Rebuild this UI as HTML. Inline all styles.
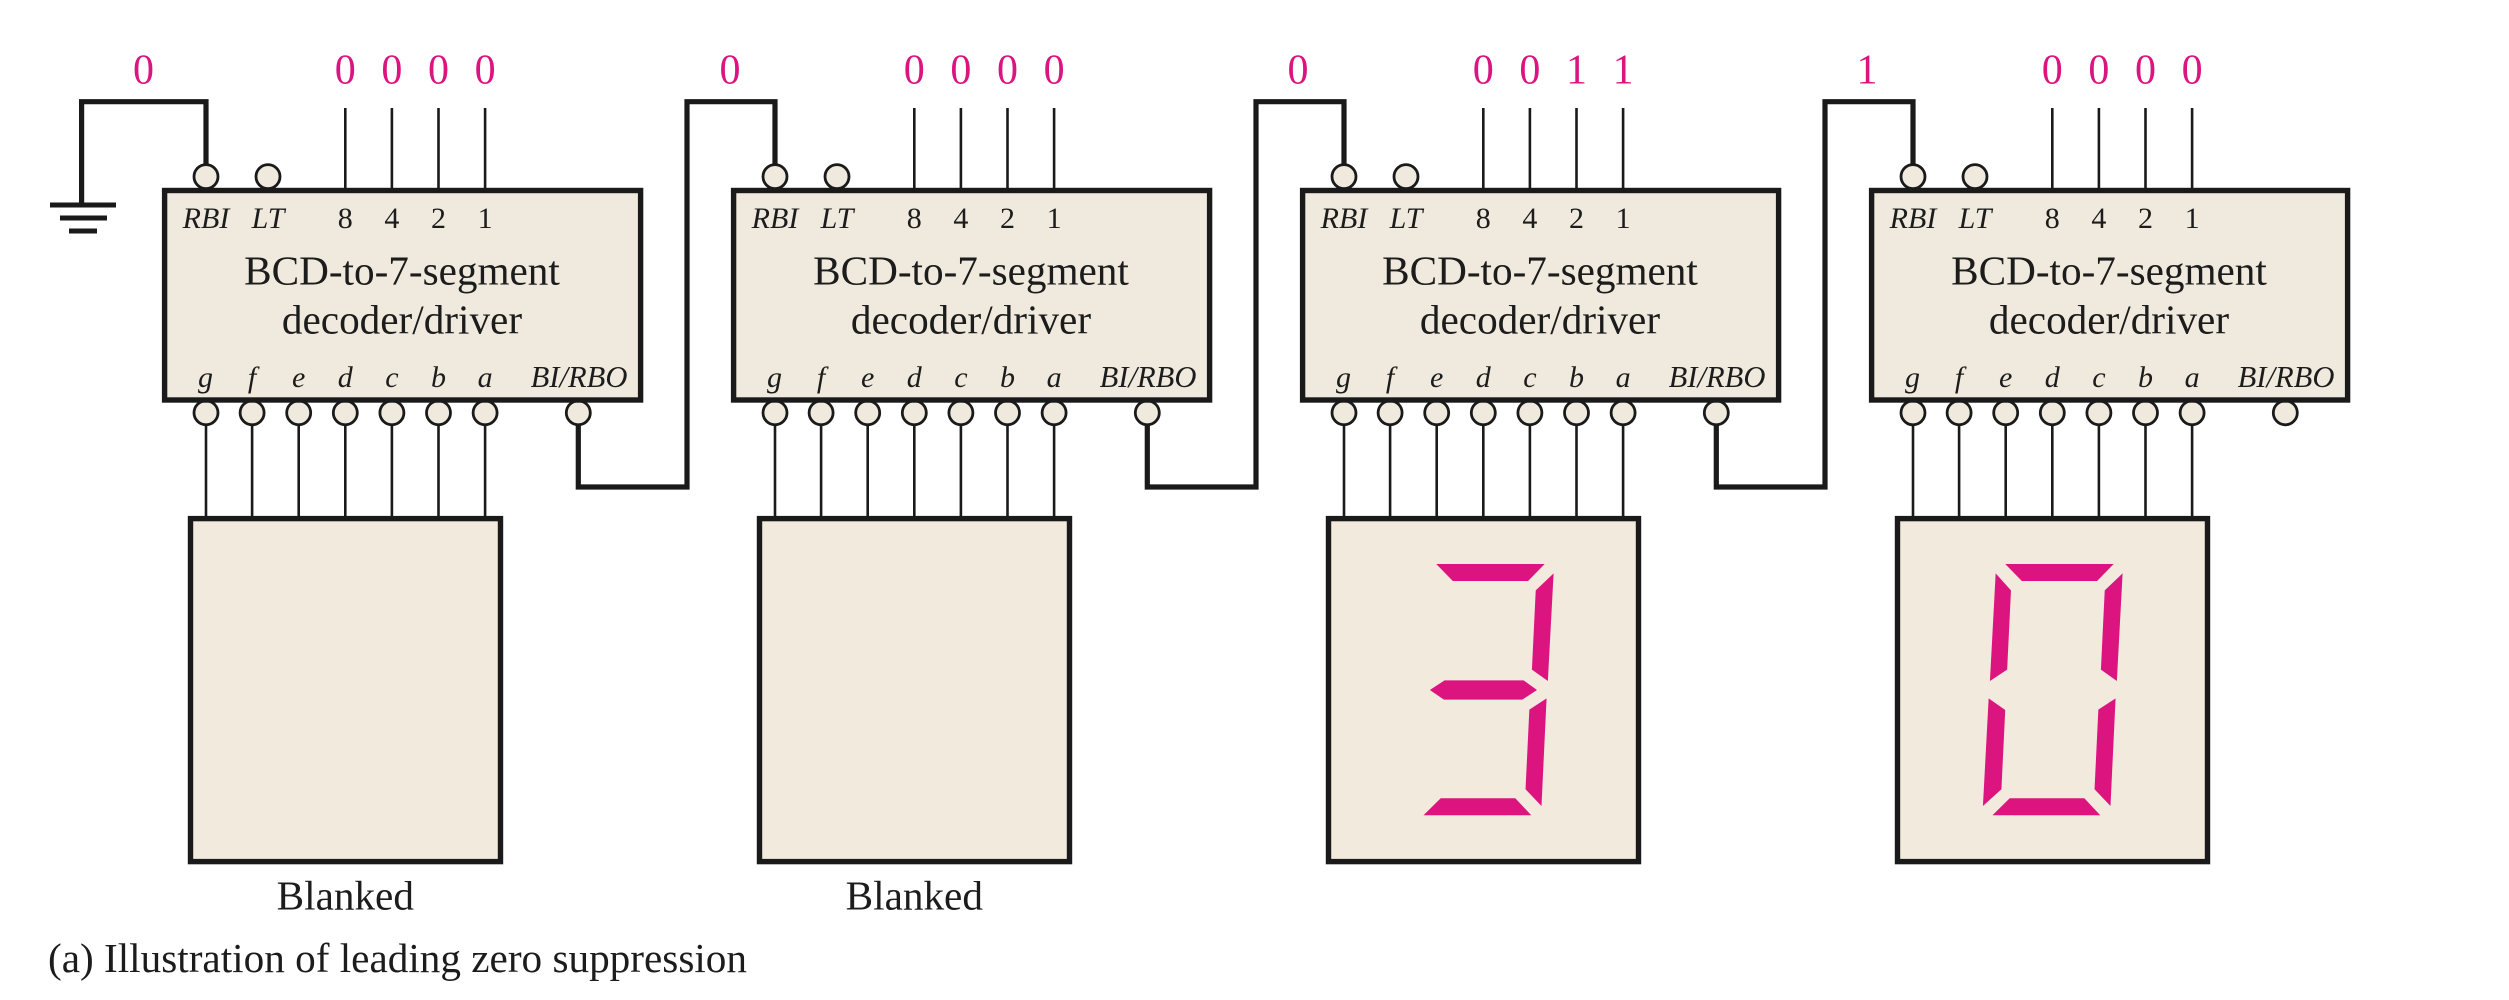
<!DOCTYPE html>
<html><head><meta charset="utf-8">
<style>
html,body{margin:0;padding:0;background:#fff}
svg{display:block}
text{font-family:"Liberation Serif",serif;fill:#1c1c1c;text-anchor:middle}
.p{font-size:42px;fill:#dc1480}
.i{font-size:30px;font-style:italic}
.r{font-size:30.6px;font-style:italic}
.n{font-size:30px}
.t{font-size:41.2px}
.box{fill:#efeadd;stroke:#1a1a1a;stroke-width:5.4}
.dsp{fill:#f1eadd;stroke:#1a1a1a;stroke-width:5.4}
.thin{stroke:#1a1a1a;stroke-width:2.6;fill:none}
.wire{stroke:#1a1a1a;stroke-width:5.2;fill:none}
.b{fill:#efeadd;stroke:#1a1a1a;stroke-width:2.8}
.seg polygon{fill:#dc1480}
</style></head><body>
<svg width="2509" height="1000" viewBox="0 0 2509 1000" xmlns="http://www.w3.org/2000/svg">
<defs>
<g id="hw">
<path class="thin" d="M183.3 108V188M229.9 108V188M276.5 108V188M323.1 108V188M44 426V516M90.1 426V516M136.7 426V516M183.3 426V516M229.9 426V516M276.5 426V516M323.1 426V516"/>
<circle class="b" cx="44" cy="176.6" r="12"/><circle class="b" cx="106" cy="176.6" r="12"/>
<circle class="b" cx="44" cy="412.8" r="12"/><circle class="b" cx="90.1" cy="412.8" r="12"/><circle class="b" cx="136.7" cy="412.8" r="12"/><circle class="b" cx="183.3" cy="412.8" r="12"/><circle class="b" cx="229.9" cy="412.8" r="12"/><circle class="b" cx="276.5" cy="412.8" r="12"/><circle class="b" cx="323.1" cy="412.8" r="12"/><circle class="b" cx="416.3" cy="412.8" r="12"/>
<rect class="box" x="2.6" y="190.5" width="476" height="209.5"/>
<rect class="dsp" x="28.5" y="518.6" width="310" height="343"/>
</g>
</defs>
<path class="wire" d="M206 165V101.7H81.6V205"/>
<rect x="50" y="202.5" width="66" height="5" fill="#1a1a1a"/>
<rect x="60" y="215.5" width="47" height="5" fill="#1a1a1a"/>
<rect x="69" y="228.5" width="28" height="5" fill="#1a1a1a"/>
<path class="wire" d="M578.3 425V487H687V101.7H775V165"/>
<path class="wire" d="M1147.3 425V487H1256V101.7H1344V165"/>
<path class="wire" d="M1716.3 425V487H1825V101.7H1913V165"/>
<use href="#hw" x="162"/><use href="#hw" x="731"/><use href="#hw" x="1300"/><use href="#hw" x="1869"/>

<g transform="translate(162,0)">
<text class="i" x="44" y="228">RBI</text><text class="i" x="106" y="228">LT</text>
<text class="n" x="183.3" y="228">8</text><text class="n" x="229.9" y="228">4</text><text class="n" x="276.5" y="228">2</text><text class="n" x="323.1" y="228">1</text>
<text class="t" x="240" y="284.5">BCD-to-7-segment</text><text class="t" x="240" y="333.5">decoder/driver</text>
<text class="i" x="43.5" y="387">g</text><text class="i" x="90.1" y="387">f</text><text class="i" x="136.7" y="387">e</text><text class="i" x="183.3" y="387">d</text><text class="i" x="229.9" y="387">c</text><text class="i" x="276.5" y="387">b</text><text class="i" x="323.1" y="387">a</text><text class="r" x="417" y="387">BI/RBO</text>
<text class="p" x="183.3" y="83.5">0</text><text class="p" x="229.9" y="83.5">0</text><text class="p" x="276.5" y="83.5">0</text><text class="p" x="323.1" y="83.5">0</text>
<text class="t" x="183.3" y="909.5">Blanked</text>
</g>
<g transform="translate(731,0)">
<text class="i" x="44" y="228">RBI</text><text class="i" x="106" y="228">LT</text>
<text class="n" x="183.3" y="228">8</text><text class="n" x="229.9" y="228">4</text><text class="n" x="276.5" y="228">2</text><text class="n" x="323.1" y="228">1</text>
<text class="t" x="240" y="284.5">BCD-to-7-segment</text><text class="t" x="240" y="333.5">decoder/driver</text>
<text class="i" x="43.5" y="387">g</text><text class="i" x="90.1" y="387">f</text><text class="i" x="136.7" y="387">e</text><text class="i" x="183.3" y="387">d</text><text class="i" x="229.9" y="387">c</text><text class="i" x="276.5" y="387">b</text><text class="i" x="323.1" y="387">a</text><text class="r" x="417" y="387">BI/RBO</text>
<text class="p" x="183.3" y="83.5">0</text><text class="p" x="229.9" y="83.5">0</text><text class="p" x="276.5" y="83.5">0</text><text class="p" x="323.1" y="83.5">0</text>
<text class="t" x="183.3" y="909.5">Blanked</text>
</g>
<g transform="translate(1300,0)">
<text class="i" x="44" y="228">RBI</text><text class="i" x="106" y="228">LT</text>
<text class="n" x="183.3" y="228">8</text><text class="n" x="229.9" y="228">4</text><text class="n" x="276.5" y="228">2</text><text class="n" x="323.1" y="228">1</text>
<text class="t" x="240" y="284.5">BCD-to-7-segment</text><text class="t" x="240" y="333.5">decoder/driver</text>
<text class="i" x="43.5" y="387">g</text><text class="i" x="90.1" y="387">f</text><text class="i" x="136.7" y="387">e</text><text class="i" x="183.3" y="387">d</text><text class="i" x="229.9" y="387">c</text><text class="i" x="276.5" y="387">b</text><text class="i" x="323.1" y="387">a</text><text class="r" x="417" y="387">BI/RBO</text>
<text class="p" x="183.3" y="83.5">0</text><text class="p" x="229.9" y="83.5">0</text><text class="p" x="276.5" y="83.5">1</text><text class="p" x="323.1" y="83.5">1</text>
</g>
<g transform="translate(1869,0)">
<text class="i" x="44" y="228">RBI</text><text class="i" x="106" y="228">LT</text>
<text class="n" x="183.3" y="228">8</text><text class="n" x="229.9" y="228">4</text><text class="n" x="276.5" y="228">2</text><text class="n" x="323.1" y="228">1</text>
<text class="t" x="240" y="284.5">BCD-to-7-segment</text><text class="t" x="240" y="333.5">decoder/driver</text>
<text class="i" x="43.5" y="387">g</text><text class="i" x="90.1" y="387">f</text><text class="i" x="136.7" y="387">e</text><text class="i" x="183.3" y="387">d</text><text class="i" x="229.9" y="387">c</text><text class="i" x="276.5" y="387">b</text><text class="i" x="323.1" y="387">a</text><text class="r" x="417" y="387">BI/RBO</text>
<text class="p" x="183.3" y="83.5">0</text><text class="p" x="229.9" y="83.5">0</text><text class="p" x="276.5" y="83.5">0</text><text class="p" x="323.1" y="83.5">0</text>
</g>
<text class="p" x="143.5" y="83.5">0</text><text class="p" x="730" y="83.5">0</text><text class="p" x="1298" y="83.5">0</text><text class="p" x="1867" y="83.5">1</text>

<g class="seg" transform="translate(1250,500) scale(0.6378,0.3333)">
<polygon points="292,192 462,192 436,243 318,243"/>
<polygon points="476,220 467,543 442,509 448,271"/>
<polygon points="282,570 305,541 429,541 450,570 427,599 304,599"/>
<polygon points="465,595 457,918 432,868 438,629"/>
<polygon points="299,895 416,895 441,946 272,946"/>
</g>
<g class="seg" transform="translate(1819,500) scale(0.6378,0.3333)">
<polygon points="292,192 462,192 436,243 318,243"/>
<polygon points="476,220 467,543 442,509 448,271"/>
<polygon points="465,595 457,918 432,868 438,629"/>
<polygon points="299,895 416,895 441,946 272,946"/>
<polygon points="277,220 301,271 295,509 268,543"/>
<polygon points="266,595 292,630 286,868 257,918"/>
</g>
<text class="t" x="48" y="972" style="text-anchor:start" textLength="699" lengthAdjust="spacingAndGlyphs">(a) Illustration of leading zero suppression</text>
</svg>
</body></html>
